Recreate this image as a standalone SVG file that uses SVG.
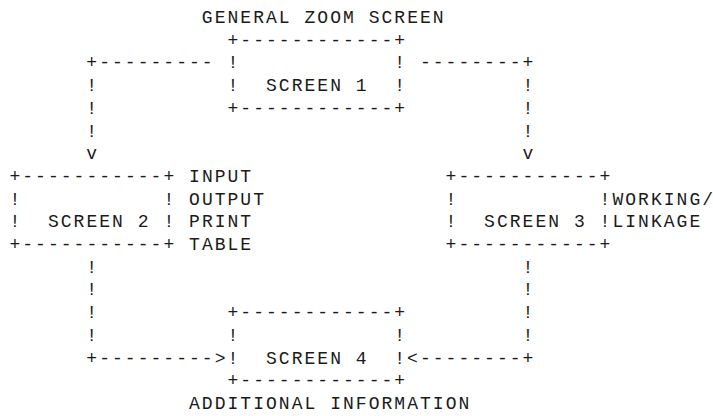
<svg xmlns="http://www.w3.org/2000/svg" width="713" height="416" viewBox="0 0 713 416" xml:space="preserve">
  <style>
    text { font-family: "Courier New", "Liberation Mono", monospace; font-size: 18px; letter-spacing: 2.03px; fill: #1a1a1a; white-space: pre; }
    .last { letter-spacing: 0; }
  </style>
  <rect width="713" height="416" fill="#fff"/>

  <!-- character grid: x = 10 + 12.83*col, baseline y = 23 + 22.7*row -->
  <g transform="translate(-0.6,0)">

  <g id="screen1">
    <text x="202.45" y="23">GENERAL ZOOM SCREEN</text>
    <text x="228.11" y="45.7">+------------+</text>
    <text x="228.11" y="68.4">!            !</text>
    <text x="228.11" y="91.1">!  SCREEN 1  !</text>
    <text x="228.11" y="113.8">+------------+</text>
  </g>

  <g id="screen2">
    <text x="10" y="181.9">+-----------+ INPUT</text>
    <text x="10" y="204.6">!           ! OUTPUT</text>
    <text x="10" y="227.3">!  SCREEN 2 ! PRINT</text>
    <text x="10" y="250">+-----------+ TABLE</text>
  </g>

  <g id="screen3">
    <text x="446.22" y="181.9">+-----------+</text>
    <text x="446.22" y="204.6">!           !WORKING</text>
    <text class="last" x="702.82" y="204.6">/</text>
    <text x="446.22" y="227.3">!  SCREEN 3 !LINKAGE</text>
    <text x="446.22" y="250">+-----------+</text>
  </g>

  <g id="screen4">
    <text x="228.11" y="318.1">+------------+</text>
    <text x="228.11" y="340.8">!            !</text>
    <text x="228.11" y="363.5">!  SCREEN 4  !</text>
    <text x="228.11" y="386.2">+------------+</text>
    <text x="189.62" y="408.9">ADDITIONAL INFORMATION</text>
  </g>

  <g id="connectors">
    <!-- screen 1 down to screens 2 and 3 -->
    <text x="86.98" y="68.4">+---------</text>
    <text x="420.56" y="68.4">--------+</text>
    <text x="86.98" y="91.1">!</text>
    <text x="86.98" y="113.8">!</text>
    <text x="86.98" y="136.5">!</text>
    <text x="86.98" y="159.2">v</text>
    <text x="523.2" y="91.1">!</text>
    <text x="523.2" y="113.8">!</text>
    <text x="523.2" y="136.5">!</text>
    <text x="523.2" y="159.2">v</text>
    <!-- screens 2 and 3 down to screen 4 -->
    <text x="86.98" y="272.7">!</text>
    <text x="86.98" y="295.4">!</text>
    <text x="86.98" y="318.1">!</text>
    <text x="86.98" y="340.8">!</text>
    <text x="86.98" y="363.5">+---------&gt;</text>
    <text x="523.2" y="272.7">!</text>
    <text x="523.2" y="295.4">!</text>
    <text x="523.2" y="318.1">!</text>
    <text x="523.2" y="340.8">!</text>
    <text x="407.73" y="363.5">&lt;--------+</text>
  </g>

  </g>
</svg>
